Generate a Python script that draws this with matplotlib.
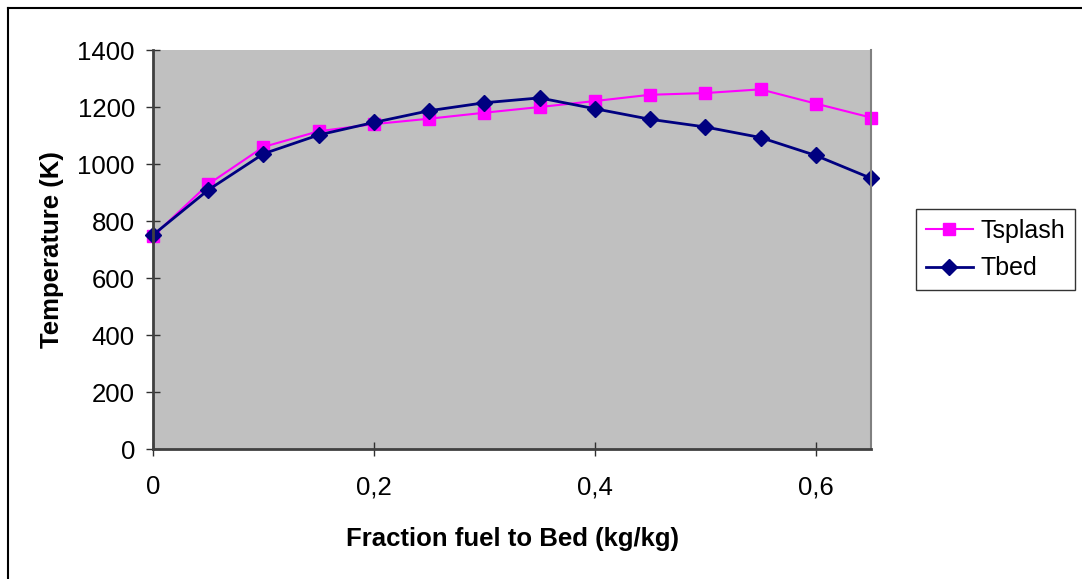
import matplotlib
matplotlib.use('Agg')
import matplotlib.pyplot as plt
from matplotlib.lines import Line2D
from matplotlib.ticker import FuncFormatter

fraction = [0, 0.05, 0.1, 0.15, 0.2, 0.25, 0.3, 0.35, 0.4, 0.45, 0.5, 0.55, 0.6, 0.65]
tsplash = [747, 929, 1060, 1115, 1140, 1159, 1180, 1200, 1221, 1243, 1249, 1262, 1212, 1163]
tbed = [751, 909, 1036, 1102, 1146, 1187, 1215, 1232, 1194, 1157, 1130, 1093, 1030, 950]

plt.rcParams['font.family'] = ['Liberation Sans', 'DejaVu Sans']

W, H = 1082, 579
fig = plt.figure(figsize=(W / 100, H / 100), dpi=100)

# border of the chart area: only the left and top edges show in the picture
bx, by = 7.5 / W, 1 - 7.5 / H
fig.add_artist(Line2D([bx, bx], [0, by], transform=fig.transFigure, color='black', lw=1.5))
fig.add_artist(Line2D([bx, 1], [by, by], transform=fig.transFigure, color='black', lw=1.5))

ax = fig.add_axes([0.1414, 0.2245, 0.6636, 0.6891])
ax.set_facecolor('#C0C0C0')

ax.plot(fraction, tsplash, color='#FF00FF', marker='s', markersize=9,
        linewidth=1.5, label='Tsplash', clip_on=False)
ax.plot(fraction, tbed, color='#000080', marker='D', markersize=8.5,
        linewidth=2, label='Tbed', clip_on=False)

ax.set_xlim(0, 0.65)
ax.set_ylim(0, 1400)
ax.set_xticks([0, 0.2, 0.4, 0.6])
ax.set_yticks(range(0, 1401, 200))
ax.xaxis.set_major_formatter(FuncFormatter(lambda v, p: ('%g' % round(v, 2)).replace('.', ',')))
ax.tick_params(axis='both', direction='inout', length=10, width=1, labelsize=18.5,
               color='#303030')
ax.tick_params(axis='x', pad=14)
ax.tick_params(axis='y', pad=8)

for s in ['left', 'bottom']:
    ax.spines[s].set_color('#404040')
    ax.spines[s].set_linewidth(2)
ax.spines['right'].set_color('#808080')
ax.spines['right'].set_linewidth(1.5)
ax.spines['top'].set_visible(False)

ax.set_xlabel('Fraction fuel to Bed (kg/kg)', fontsize=18.5, fontweight='bold', labelpad=20)
ax.set_ylabel('Temperature (K)', fontsize=18.5, fontweight='bold', labelpad=10)

leg = ax.legend(loc='center left', bbox_to_anchor=(1.062, 0.5), fontsize=18,
                frameon=True, fancybox=False, edgecolor='black', facecolor='white',
                handlelength=1.9, borderpad=0.4, borderaxespad=0,
                labelspacing=0.55, handletextpad=0.3)
leg.get_frame().set_linewidth(1)

fig.savefig('out.png', dpi=100)
